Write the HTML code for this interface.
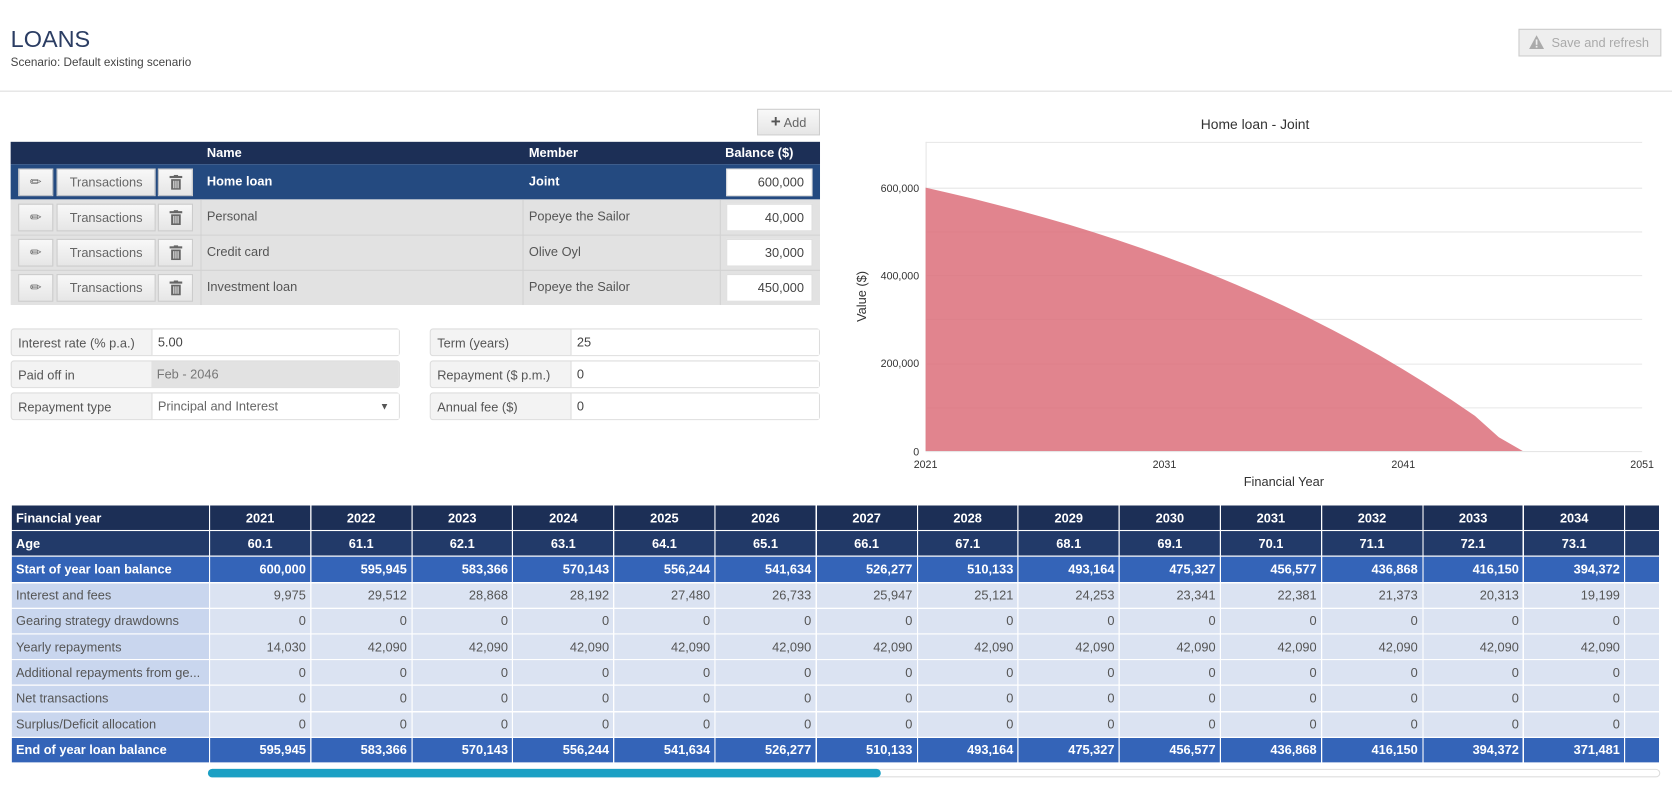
<!DOCTYPE html>
<html><head><meta charset="utf-8"><style>
html,body{margin:0;padding:0;background:#fff;overflow:hidden;width:1672px;height:789px}
#w{position:absolute;left:0;top:0;width:1568px;height:740px;transform:scale(1.06633);transform-origin:0 0;font-family:"Liberation Sans",sans-serif;font-size:12px;color:#555}
.a{position:absolute;box-sizing:border-box}
.btn{position:absolute;box-sizing:border-box;background:linear-gradient(#f8f8f8,#e6e6e6);border:1px solid #ccc;color:#666;text-align:center;font-size:12px}
.inp{position:absolute;box-sizing:border-box;background:#fff;border:1px solid #ddd;text-align:right;padding-right:7px;color:#444;font-size:12px}
.fl{position:absolute;box-sizing:border-box;border:1px solid #ddd;border-radius:3px;background:#f3f3f3;font-size:12px;color:#555}
.fl span{position:absolute;left:6px;top:6px}
.fl i{position:absolute;top:0;bottom:0;background:#fff;font-style:normal;padding-left:5px;line-height:24px;color:#444;border-left:1px solid #ddd}
table{position:absolute;left:10px;top:473px;border-collapse:collapse;table-layout:fixed;width:1547px}
td{border:1px solid #fff;height:23.2px;padding:0 4px;font-size:12px;text-align:right;white-space:nowrap;overflow:hidden;background:#dbe3f2;color:#555}
td:first-child{text-align:left;background:#c9d6ee}
tr.h td{background:#1c2f56;color:#fff;font-weight:bold;text-align:center}
tr.g td{background:#223a69;color:#fff;font-weight:bold;text-align:center}
tr.h td:first-child,tr.g td:first-child{text-align:left}
tr.s td{background:#3464b8;color:#fff;font-weight:bold}
</style></head><body><div id="w">
<div class="a" style="left:10px;top:24px;font-size:22px;color:#2b3d63">LOANS</div>
<div class="a" style="left:10px;top:53px;font-size:11px;color:#444">Scenario: Default existing scenario</div>
<div class="a" style="left:1424px;top:27px;width:134px;height:26px;border:1px solid #ccc;background:#eee;color:#aaa;font-size:12px;line-height:24px;padding-left:30px">Save and refresh</div>
<svg class="a" style="left:1433px;top:32px" width="16" height="15"><polygon points="8,1 15,14 1,14" fill="#aaa"/><rect x="7.2" y="5" width="1.6" height="5" fill="#eee"/><rect x="7.2" y="11" width="1.6" height="1.6" fill="#eee"/></svg>
<div class="a" style="left:0;top:85px;width:1568px;height:1px;background:#ddd"></div>

<div class="btn" style="left:710px;top:102px;width:59px;height:25px;line-height:23px"><b style="font-size:16px;color:#555">+</b> Add</div>
<div class="a" style="left:10px;top:133px;width:759px;height:21px;background:#1c2f56;color:#fff;font-weight:bold;font-size:12px;line-height:20px">
<span style="position:absolute;left:184px">Name</span><span style="position:absolute;left:486px">Member</span><span style="position:absolute;left:670px">Balance ($)</span></div>
<div class="a" style="left:10px;top:154px;width:759px;height:33px;background:#244a80"></div>
<div class="a" style="left:10px;top:187px;width:759px;height:99px;background:#e2e2e2"></div>
<div class="a" style="left:188px;top:187px;width:1px;height:99px;background:#d2d2d2"></div>
<div class="a" style="left:490px;top:187px;width:1px;height:99px;background:#d2d2d2"></div>
<div class="a" style="left:675px;top:187px;width:1px;height:99px;background:#d2d2d2"></div>
<div class="a" style="left:10px;top:220px;width:759px;height:1px;background:#d2d2d2"></div>
<div class="a" style="left:10px;top:253px;width:759px;height:1px;background:#d2d2d2"></div>

<div id="rows"></div>

<div class="fl" style="left:10px;top:308px;width:365px;height:26px"><span>Interest rate (% p.a.)</span><i style="left:131px;right:0">5.00</i></div>
<div class="fl" style="left:10px;top:338px;width:365px;height:26px"><span>Paid off in</span><i style="left:131px;right:0;background:#e2e2e2;color:#777;border-left:none">Feb - 2046</i></div>
<div class="fl" style="left:10px;top:368px;width:365px;height:26px"><span>Repayment type</span><i style="left:131px;right:0;color:#666">Principal and Interest<b style="position:absolute;right:9px;font-size:9px;color:#555">▼</b></i></div>
<div class="fl" style="left:403px;top:308px;width:366px;height:26px"><span>Term (years)</span><i style="left:131px;right:0">25</i></div>
<div class="fl" style="left:403px;top:338px;width:366px;height:26px"><span>Repayment ($ p.m.)</span><i style="left:131px;right:0">0</i></div>
<div class="fl" style="left:403px;top:368px;width:366px;height:26px"><span>Annual fee ($)</span><i style="left:131px;right:0">0</i></div>

<svg class="a" style="left:790px;top:100px" width="778" height="370" viewBox="790 100 778 370" font-family="Liberation Sans, sans-serif">
<text x="1177" y="121" text-anchor="middle" font-size="13" fill="#333">Home loan - Joint</text>
<g stroke="#e6e6e6" stroke-width="1">
<line x1="868" x2="1540" y1="133.5" y2="133.5"/><line x1="868" x2="1540" y1="176.5" y2="176.5"/><line x1="868" x2="1540" y1="217.5" y2="217.5"/><line x1="868" x2="1540" y1="258.5" y2="258.5"/><line x1="868" x2="1540" y1="299.5" y2="299.5"/><line x1="868" x2="1540" y1="341.5" y2="341.5"/><line x1="868" x2="1540" y1="382.5" y2="382.5"/><line x1="868" x2="1540" y1="423.5" y2="423.5"/><line x1="868.5" x2="868.5" y1="133" y2="423"/></g>
<path fill="#dc6f7a" fill-opacity="0.85" d="M868,423 L868,176 L890.4,181.1 L912.8,186.4 L935.2,192.1 L957.6,198 L980,204.2 L1002.4,210.7 L1024.8,217.6 L1047.2,224.8 L1069.6,232.4 L1092,240.4 L1114.4,248.8 L1136.8,257.6 L1159.2,266.9 L1181.6,276.6 L1204,286.9 L1226.4,297.6 L1248.8,309 L1271.2,320.8 L1293.6,333.3 L1316,346.5 L1338.4,360.3 L1360.8,374.8 L1383.2,390 L1405.6,410 L1428,423 Z"/>
<g font-size="10" fill="#333" text-anchor="end"><text x="862" y="180">600,000</text><text x="862" y="262">400,000</text><text x="862" y="344">200,000</text><text x="862" y="427">0</text></g>
<g font-size="10" fill="#333" text-anchor="middle"><text x="868" y="439">2021</text><text x="1092" y="439">2031</text><text x="1316" y="439">2041</text><text x="1540" y="439">2051</text></g>
<text x="1204" y="456" font-size="12" fill="#333" text-anchor="middle">Financial Year</text>
<text transform="translate(812,278) rotate(-90)" font-size="12" fill="#333" text-anchor="middle">Value ($)</text>
</svg>

<table id="t"><colgroup><col style="width:186px"></colgroup></table>
<div class="a" style="left:195px;top:721px;width:1362px;height:8px;border:1px solid #ddd;border-radius:4px"></div>
<div class="a" style="left:195px;top:721px;width:631px;height:8px;background:#1ba0c4;border-radius:4px"></div>
</div>
<script>
var R=document.getElementById('rows'),h='';
var L=[['Home loan','Joint','600,000'],['Personal','Popeye the Sailor','40,000'],['Credit card','Olive Oyl','30,000'],['Investment loan','Popeye the Sailor','450,000']];
for(var i=0;i<4;i++){var y=154+33*i,c=i==0?'#fff':'#555',fw=i==0?'bold':'normal';
h+='<div class="btn" style="left:17px;top:'+(y+4)+'px;width:33px;height:26px;line-height:24px;font-size:13px">✏</div>';
h+='<div class="btn" style="left:53px;top:'+(y+4)+'px;width:93px;height:26px;line-height:24px">Transactions</div>';
h+='<div class="btn" style="left:148px;top:'+(y+4)+'px;width:33px;height:26px"><svg width="12" height="14" style="margin-top:5px"><rect x="0" y="1" width="12" height="2" fill="#666"/><rect x="4" y="0" width="4" height="2" fill="#666"/><rect x="1.5" y="4" width="9" height="10" fill="#666"/><rect x="3.5" y="5.5" width="1" height="7" fill="#eee"/><rect x="5.5" y="5.5" width="1" height="7" fill="#eee"/><rect x="7.5" y="5.5" width="1" height="7" fill="#eee"/></svg></div>';
h+='<div class="a" style="left:194px;top:'+(y+9)+'px;color:'+c+';font-weight:'+fw+';font-size:12px">'+L[i][0]+'</div>';
h+='<div class="a" style="left:496px;top:'+(y+9)+'px;color:'+c+';font-weight:'+fw+';font-size:12px">'+L[i][1]+'</div>';
h+='<div class="inp" style="left:681px;top:'+(y+4)+'px;width:81px;height:26px;line-height:24px">'+L[i][2]+'</div>';}
R.innerHTML=h;
var yrs=[],age=[];for(var k=0;k<14;k++){yrs.push(2021+k);age.push((60.1+k).toFixed(1));}
var st='600,000 595,945 583,366 570,143 556,244 541,634 526,277 510,133 493,164 475,327 456,577 436,868 416,150 394,372'.split(' ');
var en='595,945 583,366 570,143 556,244 541,634 526,277 510,133 493,164 475,327 456,577 436,868 416,150 394,372 371,481'.split(' ');
var it='9,975 29,512 28,868 28,192 27,480 26,733 25,947 25,121 24,253 23,341 22,381 21,373 20,313 19,199'.split(' ');
var rp=['14,030'];for(k=1;k<14;k++)rp.push('42,090');
var z=[];for(k=0;k<14;k++)z.push('0');
var rows=[['h','Financial year',yrs],['g','Age',age],['s','Start of year loan balance',st],['','Interest and fees',it],['','Gearing strategy drawdowns',z],['','Yearly repayments',rp],['','Additional repayments from ge...',z],['','Net transactions',z],['','Surplus/Deficit allocation',z],['s','End of year loan balance',en]];
var t='<colgroup><col style="width:186px">';for(k=0;k<14;k++)t+='<col style="width:94.8px">';t+='<col></colgroup>';
rows.forEach(function(r){t+='<tr class="'+r[0]+'"><td>'+r[1]+'</td>';r[2].forEach(function(v){t+='<td>'+v+'</td>';});t+='<td></td></tr>';});
document.getElementById('t').innerHTML=t;
</script>
</body></html>
